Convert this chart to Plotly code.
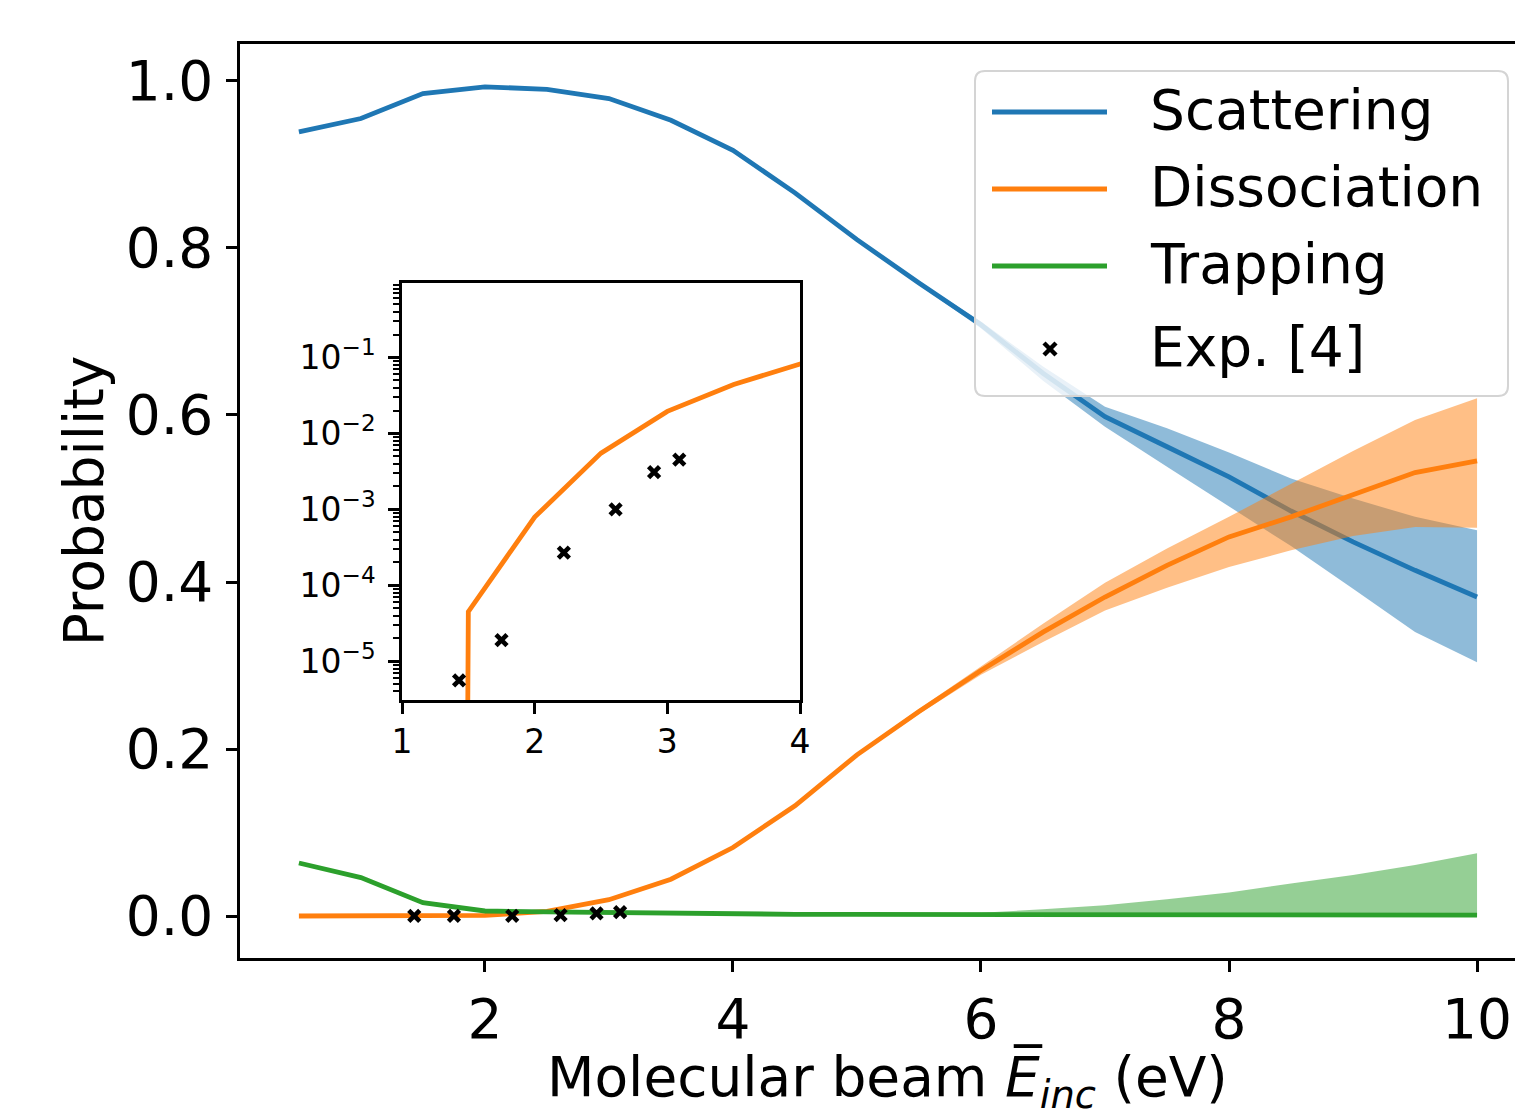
import plotly.graph_objects as go

# ---------------- data ----------------
energy = [0.5, 1.0, 1.5, 2.0, 2.5, 3.0, 3.5, 4.0, 4.5, 5.0,
          5.5, 6.0, 6.5, 7.0, 7.5, 8.0, 8.5, 9.0, 9.5, 10.0]

scattering = [0.939, 0.955, 0.985, 0.993, 0.990, 0.979, 0.953, 0.917, 0.866, 0.810,
              0.758, 0.708, 0.650, 0.598, 0.562, 0.526, 0.485, 0.448, 0.414, 0.382]
scattering_hi = [0.940, 0.956, 0.986, 0.994, 0.991, 0.980, 0.954, 0.918, 0.867, 0.811,
                 0.760, 0.712, 0.658, 0.610, 0.584, 0.555, 0.524, 0.500, 0.478, 0.462]
scattering_lo = [0.938, 0.954, 0.984, 0.992, 0.989, 0.978, 0.952, 0.916, 0.865, 0.809,
                 0.756, 0.704, 0.641, 0.586, 0.538, 0.490, 0.443, 0.392, 0.340, 0.304]

dissociation = [0.0, 0.0, 4.5e-5, 7.9e-4, 5.5e-3, 0.0195, 0.044, 0.082, 0.132, 0.193,
                0.245, 0.294, 0.340, 0.382, 0.420, 0.454, 0.478, 0.505, 0.531, 0.545]
dissociation_hi = [0.0, 0.0, 4.5e-5, 8.0e-4, 5.6e-3, 0.0200, 0.045, 0.083, 0.133, 0.195,
                   0.248, 0.299, 0.350, 0.399, 0.440, 0.478, 0.517, 0.557, 0.594, 0.620]
dissociation_lo = [0.0, 0.0, 4.5e-5, 7.8e-4, 5.4e-3, 0.0190, 0.043, 0.081, 0.131, 0.191,
                   0.242, 0.289, 0.328, 0.366, 0.393, 0.418, 0.438, 0.455, 0.466, 0.465]

trapping = [0.0635, 0.046, 0.016, 0.006, 0.005, 0.004, 0.003, 0.003, 0.002, 0.002,
            0.002, 0.001, 0.001, 0.001, 0.001, 0.001, 0.001, 0.001, 0.001, 0.001]
trapping_hi = [0.0635, 0.046, 0.016, 0.006, 0.005, 0.004, 0.003, 0.003, 0.002, 0.002,
               0.003, 0.004, 0.008, 0.013, 0.020, 0.028, 0.039, 0.049, 0.061, 0.075]
trapping_lo = [0.0635, 0.046, 0.016, 0.006, 0.005, 0.004, 0.003, 0.003, 0.002, 0.002,
               0.002, 0.001, 0.001, 0.001, 0.001, 0.001, 0.001, 0.001, 0.001, 0.001]

exp_energy = [1.43, 1.75, 2.22, 2.61, 2.90, 3.09]
exp_prob = [5.6e-6, 1.9e-5, 2.7e-4, 1.0e-3, 3.1e-3, 4.5e-3]

main_xticks = [2, 4, 6, 8, 10]
main_yticks = [0.0, 0.2, 0.4, 0.6, 0.8, 1.0]
inset_xticks = [1, 2, 3, 4]
inset_yticks = [1e-5, 1e-4, 1e-3, 1e-2, 1e-1]
inset_yticktext = ["10<sup>\u22125</sup>", "10<sup>\u22124</sup>", "10<sup>\u22123</sup>",
                   "10<sup>\u22122</sup>", "10<sup>\u22121</sup>"]

legend_names = ["Scattering", "Dissociation", "Trapping", "Exp. [4]"]
x_title = "Molecular beam <i>E\u0305</i><sub><i>inc</i></sub> (eV)"
y_title = "Probability"

# ---------------- style ----------------
BLUE = "#1f77b4"
ORANGE = "#ff7f0e"
GREEN = "#2ca02c"
FONT = "DejaVu Sans"
FS = 55
FS_IN = 33
LW = 4.8

W, H = 1515, 1116
ML, MR, MT, MB = 240, 0, 44, 158
PW = W - ML - MR
PH = H - MT - MB


def px(xp):
    return (xp - ML) / PW


def py(yp):
    return (H - MB - yp) / PH


fig = go.Figure()


def add_band(x, lo, hi, mean, color, fill, name, xa="x", ya="y"):
    fig.add_trace(go.Scatter(x=x, y=lo, mode="lines", line=dict(width=0, color=color),
                             showlegend=False, hoverinfo="skip", xaxis=xa, yaxis=ya))
    fig.add_trace(go.Scatter(x=x, y=hi, mode="lines", line=dict(width=0, color=color),
                             fill="tonexty", fillcolor=fill, showlegend=False,
                             hoverinfo="skip", xaxis=xa, yaxis=ya))
    fig.add_trace(go.Scatter(x=x, y=mean, mode="lines", name=name,
                             line=dict(width=LW, color=color), xaxis=xa, yaxis=ya))


add_band(energy, scattering_lo, scattering_hi, scattering, BLUE, "rgba(31,119,180,0.5)", legend_names[0])
add_band(energy, dissociation_lo, dissociation_hi, dissociation, ORANGE, "rgba(255,127,14,0.5)", legend_names[1])
add_band(energy, trapping_lo, trapping_hi, trapping, GREEN, "rgba(44,160,44,0.5)", legend_names[2])

marker_style = dict(symbol="x-thin", size=11, color="black", line=dict(width=4.6, color="black"))
fig.add_trace(go.Scatter(x=exp_energy, y=exp_prob, mode="markers", name=legend_names[3],
                         marker=marker_style))

# inset: dissociation on log scale (non-positive values clipped like matplotlib)
diss_clip = [v if v > 0 else 1e-300 for v in dissociation]
fig.add_trace(go.Scatter(x=energy, y=diss_clip, mode="lines", line=dict(width=LW, color=ORANGE),
                         showlegend=False, xaxis="x2", yaxis="y2"))
fig.add_trace(go.Scatter(x=exp_energy, y=exp_prob, mode="markers", marker=marker_style,
                         showlegend=False, xaxis="x2", yaxis="y2"))

axis_common = dict(showgrid=False, zeroline=False, showline=True, linecolor="black",
                   linewidth=2.6, ticks="outside", tickcolor="black", tickwidth=2.6,
                   automargin=False)

fig.update_layout(
    width=W, height=H,
    margin=dict(l=ML, r=MR, t=MT, b=MB, autoexpand=False),
    plot_bgcolor="white", paper_bgcolor="white",
    showlegend=False,
    font=dict(family=FONT, color="black"),
    xaxis=dict(**axis_common, domain=[0, 1], range=[0.025, 10.306], tickvals=main_xticks,
               ticklen=11, mirror=True, tickfont=dict(size=FS, family=FONT, color="black"),
               ticklabelstandoff=0),
    yaxis=dict(**axis_common, domain=[0, 1], range=[-0.0503, 1.0443], tickvals=main_yticks,
               tickformat=".1f", ticklen=11, mirror=False,
               tickfont=dict(size=FS, family=FONT, color="black"), ticklabelstandoff=2,
               title=dict(text=y_title, font=dict(size=FS, family=FONT, color="black"),
                          standoff=5)),
    xaxis2=dict(**axis_common, domain=[px(402), px(800)], anchor="y2", range=[1, 4],
                tickvals=inset_xticks, ticklen=11, mirror=True,
                tickfont=dict(size=FS_IN, family=FONT, color="black"), ticklabelstandoff=0),
    yaxis2=dict(**axis_common, domain=[py(700), py(283)], anchor="x2", type="log",
                range=[-5.51, -0.02], tickvals=inset_yticks, ticktext=inset_yticktext,
                ticklen=11, mirror=True,
                tickfont=dict(size=FS_IN, family=FONT, color="black"), ticklabelstandoff=6,
                minor=dict(ticks="outside", ticklen=6.5, tickwidth=2, tickcolor="black",
                           tickvals=[k * 10 ** n for n in range(-6, 0) for k in range(2, 10)])),
)

# ---------------- hand-drawn legend (matplotlib style) ----------------
x0, x1, y0, y1, r = 975, 1508, 71, 396, 10
path = (f"M {px(x0 + r)},{py(y0)} L {px(x1 - r)},{py(y0)} Q {px(x1)},{py(y0)} {px(x1)},{py(y0 + r)} "
        f"L {px(x1)},{py(y1 - r)} Q {px(x1)},{py(y1)} {px(x1 - r)},{py(y1)} "
        f"L {px(x0 + r)},{py(y1)} Q {px(x0)},{py(y1)} {px(x0)},{py(y1 - r)} "
        f"L {px(x0)},{py(y0 + r)} Q {px(x0)},{py(y0)} {px(x0 + r)},{py(y0)} Z")
shapes = [dict(type="path", path=path, xref="paper", yref="paper", layer="above",
               fillcolor="rgba(255,255,255,0.8)", line=dict(color="#d4d4d4", width=2))]
rows_y = [112, 189, 266, 349]
for color, yy in zip([BLUE, ORANGE, GREEN], rows_y[:3]):
    shapes.append(dict(type="line", xref="paper", yref="paper", layer="above",
                       x0=px(992), x1=px(1107), y0=py(yy), y1=py(yy),
                       line=dict(color=color, width=LW)))
cx, cy, d = 1050, rows_y[3], 6
shapes.append(dict(type="line", xref="paper", yref="paper", layer="above",
                   x0=px(cx - d), x1=px(cx + d), y0=py(cy - d), y1=py(cy + d),
                   line=dict(color="black", width=4.4)))
shapes.append(dict(type="line", xref="paper", yref="paper", layer="above",
                   x0=px(cx - d), x1=px(cx + d), y0=py(cy + d), y1=py(cy - d),
                   line=dict(color="black", width=4.4)))
annotations = []
for name, yy in zip(legend_names, rows_y):
    annotations.append(dict(text=name, xref="paper", yref="paper", x=px(1148), y=py(yy - 2),
                            xanchor="left", yanchor="middle", showarrow=False,
                            font=dict(size=FS, family=FONT, color="black")))
# x-axis label, centred on the full (clipped) matplotlib axes width
annotations.append(dict(text=x_title, xref="paper", yref="paper", x=px(888), y=py(1080),
                        xanchor="center", yanchor="middle", showarrow=False,
                        font=dict(size=FS, family=FONT, color="black")))
fig.update_layout(shapes=shapes, annotations=annotations)

fig.write_html("out.html")
